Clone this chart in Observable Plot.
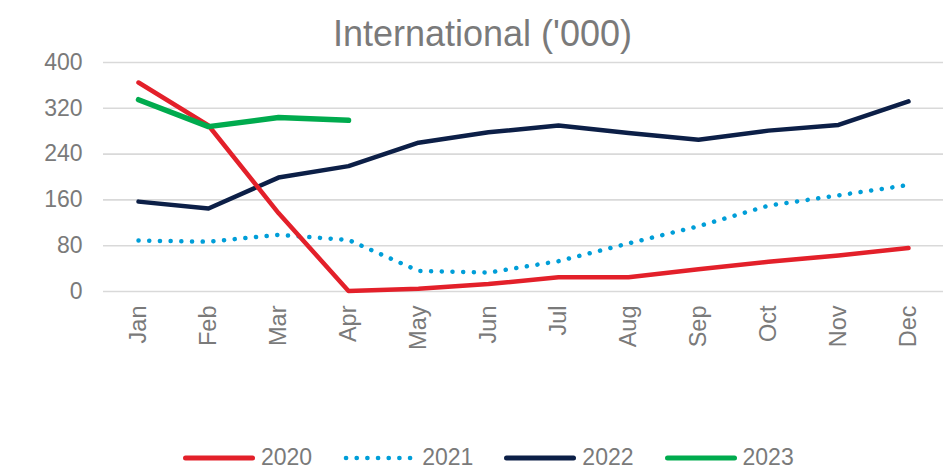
<!DOCTYPE html>
<html>
<head>
<meta charset="utf-8">
<script src="https://cdn.jsdelivr.net/npm/d3@7"></script>
<script src="https://cdn.jsdelivr.net/npm/@observablehq/plot@0.6"></script>
<style>
  html, body { margin: 0; padding: 0; background: #fff; }
  body { width: 949px; height: 471px; overflow: hidden; font-family: "Liberation Sans", Arial, sans-serif; color: #7a7a7a; }
  #title { height: 50px; line-height: 50px; font-size: 36px; text-align: center; padding-left: 16px; box-sizing: border-box; white-space: nowrap; position: relative; top: 9px; }
  #legend { display: flex; justify-content: flex-start; align-items: center; gap: 31px; height: 41px; padding-top: 14px; padding-left: 183px; box-sizing: border-box; font-size: 23px; }
  .item { display: flex; align-items: center; }
  .item svg { display: block; }
</style>
</head>
<body>
<div id="title">International ('000)</div>
<div id="chart"></div>
<div id="legend"></div>
<script>
const months = ["Jan","Feb","Mar","Apr","May","Jun","Jul","Aug","Sep","Oct","Nov","Dec"];
const years = ["2020","2021","2022","2023"];
const y2020 = [365, 290, 137, 1, 5, 13, 25, 25, 39, 52, 63, 76];
const y2021 = [89, 87, 99, 90, 36, 33, 53, 84, 114, 150, 168, 186];
const y2022 = [157, 145, 199, 219, 260, 278, 290, 277, 265, 281, 291, 332];
const y2023 = [335, 288, 304, 299];
const yTicks = [0, 80, 160, 240, 320, 400];
const colors = {"2020": "#e3202a", "2021": "#009ed8", "2022": "#0c1f47", "2023": "#00ab4e"};

const series = {"2020": y2020, "2021": y2021, "2022": y2022, "2023": y2023};
const rows = [];
for (const yr of years) series[yr].forEach((v, i) => rows.push({year: yr, month: months[i], value: v}));
const of = yr => rows.filter(d => d.year === yr);

const chart = Plot.plot({
  width: 949,
  height: 380,
  marginTop: 12,
  marginBottom: 139,
  marginLeft: 103,
  marginRight: 6,
  style: {fontFamily: '"Liberation Sans", Arial, sans-serif', fontSize: "23px", color: "#7a7a7a", background: "#fff"},
  x: {type: "point", domain: months, padding: 0.5, label: null},
  y: {domain: [0, 400], label: null},
  marks: [
    Plot.ruleY(yTicks, {stroke: "#d9d9d9", strokeWidth: 1.6}),
    Plot.axisY({ticks: yTicks, tickSize: 0, tickPadding: 21, label: null, fontSize: 23}),
    Plot.axisX({tickSize: 0, tickPadding: 14, tickRotate: -90, label: null, fontSize: 23.5}),
    Plot.line(of("2022"), {x: "month", y: "value", stroke: colors["2022"], strokeWidth: 4.5}),
    Plot.line(of("2021"), {x: "month", y: "value", stroke: colors["2021"], strokeWidth: 4.5, strokeDasharray: "0.1 10.6", strokeLinecap: "round"}),
    Plot.line(of("2020"), {x: "month", y: "value", stroke: colors["2020"], strokeWidth: 4.5}),
    Plot.line(of("2023"), {x: "month", y: "value", stroke: colors["2023"], strokeWidth: 5.5})
  ]
});
document.getElementById("chart").appendChild(chart);

const legend = document.getElementById("legend");
for (const yr of years) {
  const item = document.createElement("div");
  item.className = "item";
  const dotted = yr === "2021";
  const swatch = dotted
    ? `<svg width="70" height="10" style="margin-right:9px"><line x1="3" y1="5" x2="67.1" y2="5" stroke="${colors[yr]}" stroke-width="4.6" stroke-linecap="round" stroke-dasharray="0.1 10.57"/></svg>`
    : `<svg width="72" height="10" style="margin-right:6px"><line x1="2.5" y1="5" x2="69.5" y2="5" stroke="${colors[yr]}" stroke-width="5" stroke-linecap="round"/></svg>`;
  item.innerHTML = `${swatch}<span>${yr}</span>`;
  legend.appendChild(item);
}
</script>
</body>
</html>
